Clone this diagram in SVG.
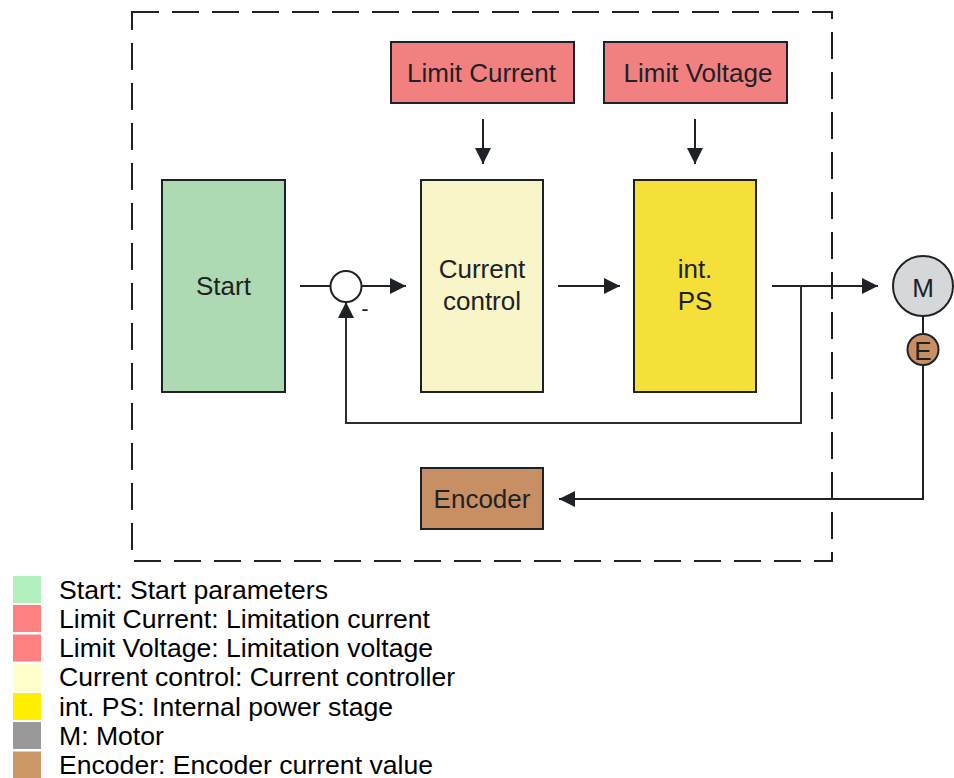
<svg xmlns="http://www.w3.org/2000/svg" width="954" height="778" viewBox="0 0 954 778">
<defs>
<style>
.node{stroke:#1e2226;stroke-width:2}
.t{font-family:"Liberation Sans",Arial,sans-serif;font-size:26px;fill:#1e2226;text-anchor:middle}
.lt{font-family:"Liberation Sans",Arial,sans-serif;font-size:26.6px;fill:#000}
.c{fill:none;stroke:#1e2226;stroke-width:2}
.fb{fill:none;stroke:#2a2e33;stroke-width:2}
</style>
<marker id="ah" markerUnits="userSpaceOnUse" markerWidth="16" markerHeight="16" refX="16" refY="8" orient="auto">
<path d="M0,0 L16,8 L0,16 z" fill="#1e2226"/>
</marker>
</defs>
<rect width="954" height="778" fill="#fff"/>
<rect x="132" y="12" width="700" height="549" fill="none" stroke="#1e2226" stroke-width="2" stroke-dasharray="27 13"/>

<g id="connectors">
<path class="c" d="M483,119 V164" marker-end="url(#ah)"/>
<path class="c" d="M695,119 V164" marker-end="url(#ah)"/>
<path class="c" d="M300,286 H330"/>
<path class="c" d="M362,286 H406" marker-end="url(#ah)"/>
<path class="c" d="M558,286 H620" marker-end="url(#ah)"/>
<path class="c" d="M772,286 H878" marker-end="url(#ah)"/>
<path class="fb" d="M801,286 V423 H346 V302" marker-end="url(#ah)"/>
<path class="c" d="M923,316 V334"/>
<path class="c" d="M923,365 V499 H559" marker-end="url(#ah)"/>
</g>

<g id="start">
<rect class="node" x="162" y="180" width="123" height="212" fill="#addab2"/>
<text class="t" x="223.5" y="295">Start</text>
</g>
<g id="limit-current">
<rect class="node" x="391" y="42" width="183" height="61" fill="#f28080"/>
<text class="t" x="481.5" y="82">Limit Current</text>
</g>
<g id="limit-voltage">
<rect class="node" x="604" y="42" width="183" height="61" fill="#f28080"/>
<text class="t" x="698" y="82">Limit Voltage</text>
</g>
<g id="current-control">
<rect class="node" x="421" y="180" width="122" height="212" fill="#f8f5c8"/>
<text class="t" x="482" y="278">Current</text>
<text class="t" x="482" y="310">control</text>
</g>
<g id="int-ps">
<rect class="node" x="634" y="180" width="122" height="212" fill="#f5e03a"/>
<text class="t" x="695" y="278">int.</text>
<text class="t" x="695" y="310">PS</text>
</g>
<g id="junction">
<circle class="node" cx="346" cy="286.5" r="15.5" fill="#fff"/>
<text class="t" x="365" y="316" style="font-size:22px">-</text>
</g>
<g id="motor">
<circle class="node" cx="923" cy="286" r="30" fill="#d5d7d9"/>
<text class="t" x="923" y="297">M</text>
</g>
<g id="e">
<circle class="node" cx="923" cy="349.5" r="15.5" fill="#c98f64"/>
<text class="t" x="923" y="359.5">E</text>
</g>
<g id="encoder">
<rect class="node" x="421" y="468" width="122" height="61" fill="#c98f64"/>
<text class="t" x="482" y="508">Encoder</text>
</g>

<g id="legend">
<rect x="13" y="576" width="28" height="27" fill="#b3f0c0"/>
<rect x="13" y="605" width="28" height="27" fill="#ff8080"/>
<rect x="13" y="634.5" width="28" height="27" fill="#ff8080"/>
<rect x="13" y="664" width="28" height="27" fill="#ffffcc"/>
<rect x="13" y="693" width="28" height="27" fill="#ffee00"/>
<rect x="13" y="722" width="28" height="27" fill="#999999"/>
<rect x="13" y="751.5" width="28" height="27" fill="#cc9966"/>
<text class="lt" x="59" y="598.5">Start: Start parameters</text>
<text class="lt" x="59" y="627.8">Limit Current: Limitation current</text>
<text class="lt" x="59" y="657.1">Limit Voltage: Limitation voltage</text>
<text class="lt" x="59" y="686.4">Current control: Current controller</text>
<text class="lt" x="59" y="715.7">int. PS: Internal power stage</text>
<text class="lt" x="59" y="745">M: Motor</text>
<text class="lt" x="59" y="774.3">Encoder: Encoder current value</text>
</g>
</svg>
